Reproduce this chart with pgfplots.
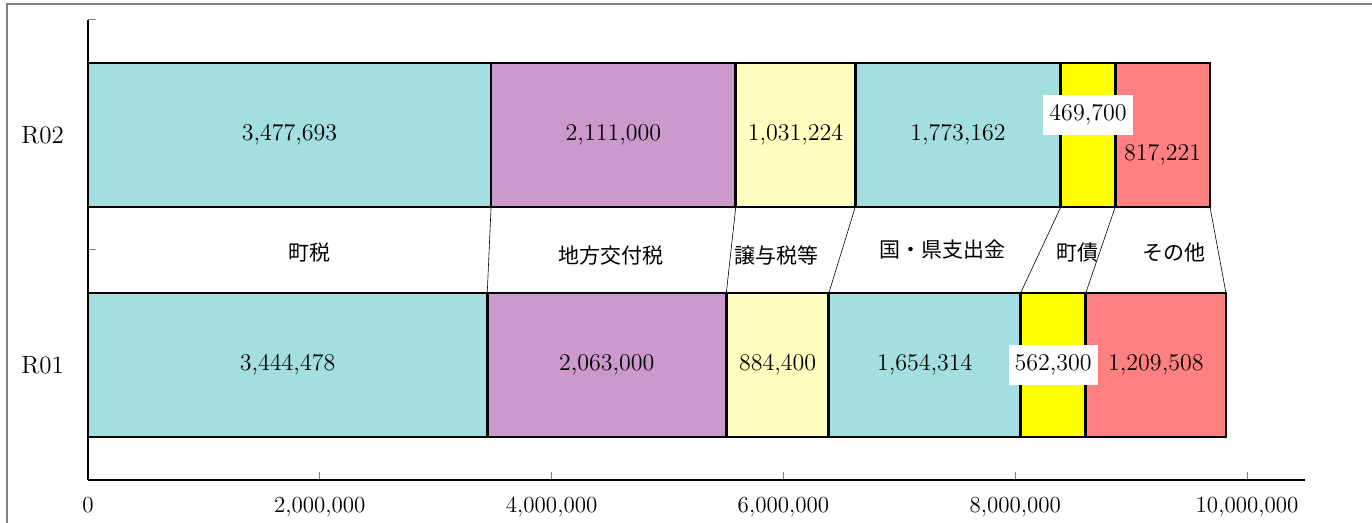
\documentclass[border=0pt]{standalone}
\usepackage{pgfplots}
\pgfplotsset{compat=1.18}
\usepackage{fontspec}
\newfontfamily\jp{Noto Sans CJK JP}
\definecolor{cteal}{RGB}{163,223,224}
\definecolor{cpurple}{RGB}{204,153,204}
\definecolor{clyellow}{RGB}{255,255,192}
\definecolor{cyellow}{RGB}{255,255,0}
\definecolor{cpink}{RGB}{255,128,128}
\pgfplotsset{common/.style={scale only axis, width=608.5pt, height=230pt,
  at={(44pt,21.5pt)}, anchor=south west, xmin=0, xmax=10500000, ymin=-0.5, ymax=1.5}}
\newcommand{\numf}{\fontsize{11.5}{13}\selectfont}
\newcommand{\datf}{\fontsize{12}{14}\selectfont}
\newcommand{\jpf}{\jp\fontsize{10.5}{12}\selectfont}
\begin{document}
\begin{tikzpicture}
\useasboundingbox (0,0) rectangle (686pt,261.5pt);
\draw[gray, line width=0.6pt] (3.5pt,-2pt) -- (3.5pt,259.5pt) -- (690pt,259.5pt);
\begin{axis}[common, xbar stacked, bar width=0.626,
  axis x line*=bottom, axis y line*=left,
  axis line style={black, line width=0.6pt},
  tick align=inside, major tick length=4pt,
  xtick={0,2000000,4000000,6000000,8000000,10000000},
  xticklabels={0,{2,000,000},{4,000,000},{6,000,000},{8,000,000},{10,000,000}},
  xticklabel style={font=\numf, yshift=-5pt},
  x tick style={gray, line width=0.5pt},
  ytick={-0.5,0.5,1.5}, yticklabels={},
  y tick style={gray, line width=0.5pt},
  extra y ticks={0,1}, extra y tick labels={R01,R02},
  extra y tick style={major tick length=0pt},
  yticklabel style={font=\fontsize{12.5}{14}\selectfont, xshift=-8.5pt},
  every axis plot/.append style={draw=black, line width=1.4pt},
  clip=false]
\addplot[fill=cteal] coordinates {(3444478,0) (3477693,1)};
\addplot[fill=cpurple] coordinates {(2063000,0) (2111000,1)};
\addplot[fill=clyellow] coordinates {(884400,0) (1031224,1)};
\addplot[fill=cteal] coordinates {(1654314,0) (1773162,1)};
\addplot[fill=cyellow] coordinates {(562300,0) (469700,1)};
\addplot[fill=cpink] coordinates {(1209508,0) (817221,1)};
\end{axis}
\begin{axis}[common, hide axis, clip=false]
\addplot[black, line width=0.3pt] coordinates {(3477693,0.687) (3444478,0.313)};
\addplot[black, line width=0.3pt] coordinates {(5588693,0.687) (5507478,0.313)};
\addplot[black, line width=0.3pt] coordinates {(6619917,0.687) (6391878,0.313)};
\addplot[black, line width=0.3pt] coordinates {(8393079,0.687) (8046192,0.313)};
\addplot[black, line width=0.3pt] coordinates {(8862779,0.687) (8608492,0.313)};
\addplot[black, line width=0.3pt] coordinates {(9680000,0.687) (9818000,0.313)};
% data labels R02
\node[font=\datf] at (axis cs:1738846,1) {3,477,693};
\node[font=\datf] at (axis cs:4533193,1) {2,111,000};
\node[font=\datf] at (axis cs:6104305,1) {1,031,224};
\node[font=\datf] at (axis cs:7506498,1) {1,773,162};
\node[font=\datf, fill=white, inner xsep=3pt, inner ysep=5pt] at (axis cs:8627929,1.087) {469,700};
\node[font=\datf] at (axis cs:9271390,0.913) {817,221};
% data labels R01
\node[font=\datf] at (axis cs:1722239,0) {3,444,478};
\node[font=\datf] at (axis cs:4475978,0) {2,063,000};
\node[font=\datf] at (axis cs:5949678,0) {884,400};
\node[font=\datf] at (axis cs:7219035,0) {1,654,314};
\node[font=\datf, fill=white, inner xsep=3pt, inner ysep=5pt] at (axis cs:8327342,0) {562,300};
\node[font=\datf] at (axis cs:9213246,0) {1,209,508};
% category labels
\node[font=\jpf] at (axis cs:1907000,0.49) {町税};
\node[font=\jpf] at (axis cs:4514000,0.478) {地方交付税};
\node[font=\jpf] at (axis cs:5938000,0.478) {譲与税等};
\node[font=\jpf] at (axis cs:7370000,0.5) {国・県支出金};
\node[font=\jpf] at (axis cs:8535000,0.49) {町債};
\node[font=\jpf] at (axis cs:9373000,0.49) {その他};
\end{axis}
\end{tikzpicture}
\end{document}
